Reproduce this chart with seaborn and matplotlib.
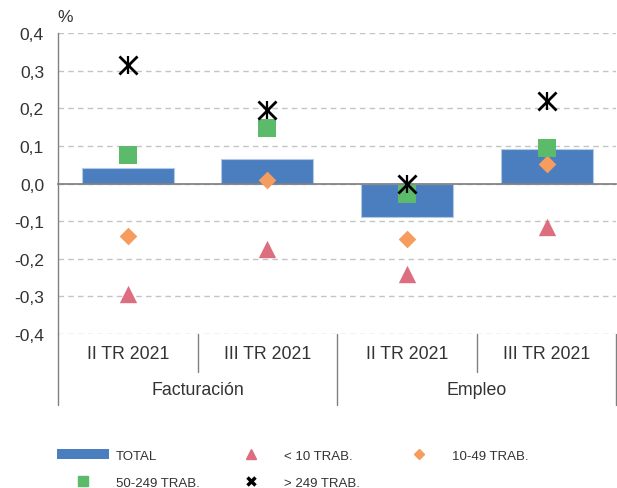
import numpy as np
import pandas as pd
import matplotlib
matplotlib.use("Agg")
import matplotlib.pyplot as plt
import seaborn as sns
from matplotlib.lines import Line2D
from matplotlib.patches import Patch
from matplotlib.ticker import FuncFormatter

# --- data ---
groups = ["Facturación", "Facturación", "Empleo", "Empleo"]
quarters = ["II TR 2021", "III TR 2021", "II TR 2021", "III TR 2021"]
total = [0.042, 0.066, -0.089, 0.091]
lt10 = [-0.295, -0.175, -0.240, -0.115]
t10_49 = [-0.139, 0.009, -0.148, 0.053]
t50_249 = [0.076, 0.147, -0.029, 0.095]
gt249 = [0.315, 0.195, 0.0, 0.220]
yticks = [-0.4, -0.3, -0.2, -0.1, 0.0, 0.1, 0.2, 0.3, 0.4]

BLUE = "#4a7ebf"
PINK = "#dc6e80"
ORANGE = "#f69c5f"
GREEN = "#5bbb6a"
GREY = "#808080"
TXT = "#333333"

keys = [f"{g} {q}" for g, q in zip(groups, quarters)]
df = pd.DataFrame({"key": keys, "total": total, "lt10": lt10, "t10_49": t10_49,
                   "t50_249": t50_249, "gt249": gt249})

sns.set_theme(style="white")
plt.rcParams["font.family"] = ["Liberation Sans", "DejaVu Sans"]

fig = plt.figure(figsize=(6.17, 4.89), dpi=100)
ax = fig.add_axes([0.094, 0.315, 0.905, 0.615])

sns.barplot(data=df, x="key", y="total", order=keys, color=BLUE, saturation=1,
            width=0.66, edgecolor="#b3c9e8", linewidth=0.8, ax=ax, zorder=2)

strip = dict(data=df, x="key", order=keys, jitter=False, ax=ax, zorder=4)
sns.stripplot(y="lt10", color=PINK, marker="^", size=12.5, linewidth=0, **strip)
sns.stripplot(y="t10_49", color=ORANGE, marker="D", size=9, linewidth=0, **strip)
sns.stripplot(y="t50_249", color=GREEN, marker="s", size=13.5, linewidth=0, **strip)
sns.stripplot(y="gt249", color="black", marker="x", size=13, linewidth=2,
              edgecolor="black", **strip)
sns.stripplot(y="gt249", color="black", marker="|", size=13, linewidth=1.6,
              edgecolor="black", **strip)

ax.set_xlim(-0.5, 3.5)
ax.set_ylim(-0.4, 0.4)
ax.set_yticks(yticks)
ax.yaxis.set_major_formatter(FuncFormatter(lambda v, p: f"{v:.1f}".replace(".", ",").replace("−", "-")))
ax.tick_params(axis="y", length=0, labelsize=12.6, colors=TXT, pad=10)
ax.set_xticks([0.5, 1.5, 2.5], labels=["", "", ""])
ax.tick_params(axis="x", direction="inout", length=9, width=1, color=GREY)
ax.set_xlabel("")
ax.set_ylabel("")
ax.set_axisbelow(True)
ax.yaxis.grid(True, linestyle=(0, (4, 3)), color="#c4c4c4", linewidth=1)
ax.xaxis.grid(False)

for s in ["top", "right"]:
    ax.spines[s].set_visible(False)
ax.spines["bottom"].set_position(("data", 0))
ax.spines["bottom"].set_color(GREY)
ax.spines["left"].set_color(GREY)
ax.spines["left"].set_linewidth(1)

# category label area below the plot
tr = ax.get_xaxis_transform()
for xb, y1 in [(-0.5, -0.235), (0.5, -0.125), (1.5, -0.235), (2.5, -0.125), (3.5, -0.235)]:
    ax.plot([xb, xb], [0, y1], transform=tr, color=GREY, lw=1, clip_on=False)
for i, q in enumerate(quarters):
    ax.text(i, -0.066, q, transform=tr, ha="center", va="center", fontsize=12.8, color=TXT)
for xc, g in [(0.5, "Facturación"), (2.5, "Empleo")]:
    ax.text(xc, -0.186, g, transform=tr, ha="center", va="center", fontsize=12.8, color=TXT)

fig.text(65 / 617, 1 - 17 / 489, "%", ha="center", va="center", fontsize=12.6, color=TXT)

# legend, three columns placed by hand
cols = [
    (57, [Patch(facecolor=BLUE, edgecolor="none"),
          Line2D([], [], ls="", marker="s", ms=6.5, color=GREEN)],
     ["TOTAL", "50-249 TRAB."]),
    (225, [Line2D([], [], ls="", marker="^", ms=6.5, color=PINK),
           Line2D([], [], ls="", marker="x", ms=5.5, mew=2.5, color="black")],
     ["< 10 TRAB.", "> 249 TRAB."]),
    (393, [Line2D([], [], ls="", marker="D", ms=5, color=ORANGE)],
     ["10-49 TRAB."]),
]
for xpx, hs, ls in cols:
    fig.legend(hs, ls, loc="upper left", bbox_to_anchor=(xpx / 617, 1 - 450 / 489),
               frameon=False, fontsize=9.5,
               handlelength=3.94, handleheight=0.8,
               handletextpad=0.53, labelspacing=1.08, borderpad=0, borderaxespad=0,
               labelcolor=TXT)

fig.savefig("out.png", dpi=100)
